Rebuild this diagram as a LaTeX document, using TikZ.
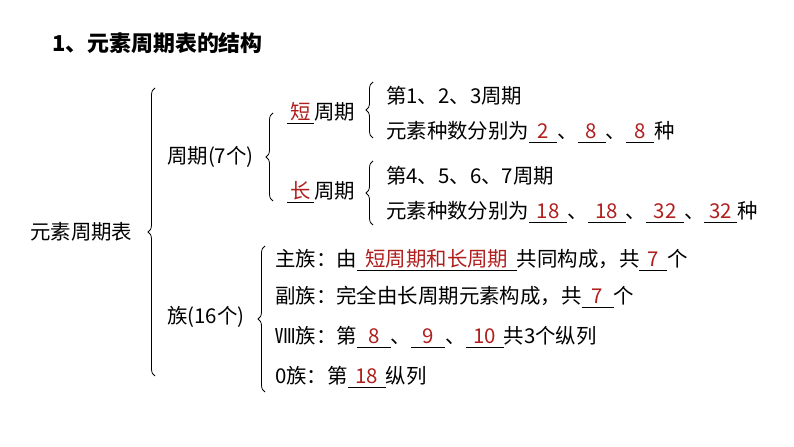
\documentclass[tikz,border=0pt]{standalone}
\usepackage{fontspec}
\setmainfont{Noto Sans CJK SC}
\usetikzlibrary{decorations.pathreplacing}
\definecolor{ansred}{HTML}{B01E1E}
% blank with answer written over it
\newcommand{\blank}[2]{\rlap{\rule[-4bp]{#1bp}{0.8bp}}\makebox[#1bp]{\color{ansred}#2}}
\tikzset{
	txt/.style={anchor=west, inner sep=0pt, font=\fontsize{20.5}{24}\selectfont},
	brc/.style={decorate, decoration={brace, mirror, amplitude=7bp}, line width=0.8bp},
}
\begin{document}
\begin{tikzpicture}[x=1bp, y=-1bp]
	\useasboundingbox (0,0) rectangle (794,447);
	\node[txt, font=\fontsize{22}{26}\selectfont\bfseries] (title) at (52,43) {1、元素周期表的结构};
	\node[txt] (table) at (30,232) {元素周期表};

	\draw[brc] (155,88) -- (155,376);
	\node[txt] (period) at (167,157) {周期(7个)};
	\node[txt] (family) at (167,317) {族(16个)};

	% periods
	\draw[brc] (273,113) -- (273,201);
	\node[txt] (short) at (287,113) {\blank{27}{短}周期};
	\node[txt] (long) at (287,192) {\blank{27}{长}周期};

	\draw[brc] (373,82) -- (373,138);
	\node[txt] (s1) at (386,96) {第1、2、3周期};
	\node[txt] (s2) at (386,132) {元素种数分别为\blank{28}{2}、\blank{28}{8}、\blank{28}{8}种};

	\draw[brc] (373,161) -- (373,225);
	\node[txt] (l1) at (386,176) {第4、5、6、7周期};
	\node[txt] (l2) at (386,212) {元素种数分别为\blank{38}{18}、\blank{38}{18}、\blank{38}{32}、\blank{33}{32}种};

	% groups
	\draw[brc] (265,246) -- (265,392);
	\node[txt] (g1) at (275,260) {主族：由\blank{160}{短周期和长周期}共同构成，共\blank{28}{7}个};
	\node[txt] (g2) at (275,297) {副族：完全由长周期元素构成，共\blank{32}{7}个};
	\node[txt] (g3) at (275,337) {Ⅷ族：第\blank{34}{8}、\blank{34}{9}、\blank{38}{10}共3个纵列};
	\node[txt] (g4) at (275,377) {0族：第\blank{38}{18}纵列};
\end{tikzpicture}
\end{document}
